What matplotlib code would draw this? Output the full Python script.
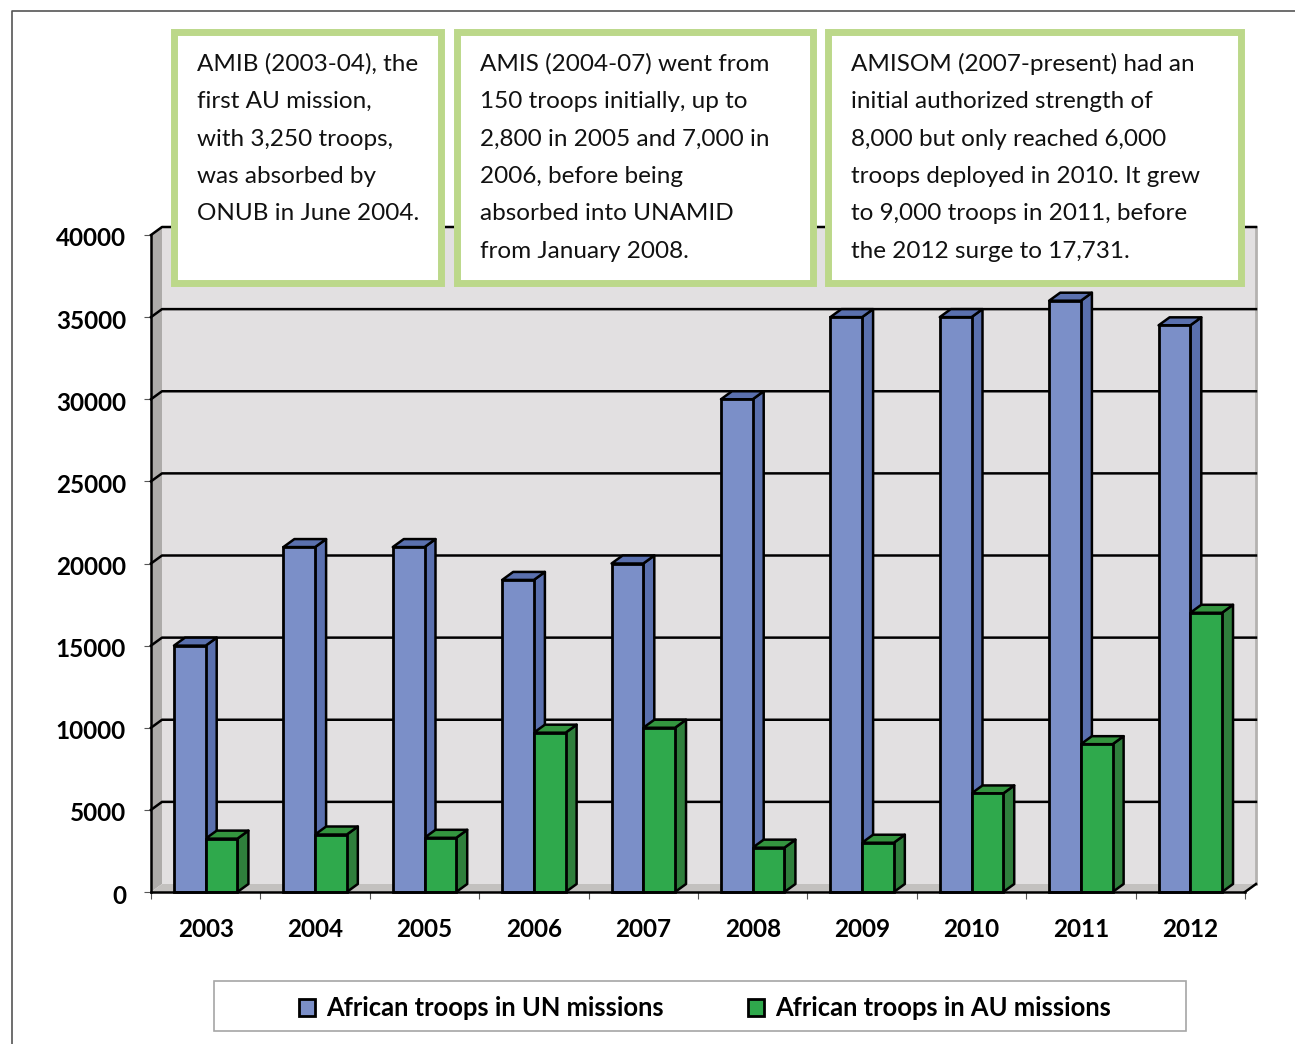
import matplotlib
matplotlib.use("Agg")
import matplotlib.pyplot as plt
from matplotlib.patches import Rectangle, Polygon
from matplotlib.transforms import ScaledTranslation

# -----------------------------------
# DATA
# -----------------------------------

years = ["2003", "2004", "2005", "2006", "2007", "2008", "2009", "2010", "2011", "2012"]
un_troops = [15000, 21000, 21000, 19000, 20000, 30000, 35000, 35000, 36000, 34500]
au_troops = [3250, 3500, 3300, 9700, 10000, 2700, 3000, 6000, 9000, 17000]
y_ticks = [0, 5000, 10000, 15000, 20000, 25000, 30000, 35000, 40000]

un_label = "African troops in UN missions"
au_label = "African troops in AU missions"

amib_lines = [
    "AMIB (2003-04), the",
    "first AU mission,",
    "with 3,250 troops,",
    "was absorbed by",
    "ONUB in June 2004.",
]
amis_lines = [
    "AMIS (2004-07) went from",
    "150 troops initially, up to",
    "2,800 in 2005 and 7,000 in",
    "2006, before being",
    "absorbed into UNAMID",
    "from January 2008.",
]
amisom_lines = [
    "AMISOM (2007-present) had an",
    "initial authorized strength of",
    "8,000 but only reached 6,000",
    "troops deployed in 2010. It grew",
    "to 9,000 troops in 2011, before",
    "the 2012 surge to 17,731.",
]

# -----------------------------------
# STYLE
# -----------------------------------

W, H = 1295, 1044
BLUE = "#7b8fc8"
BLUE_SIDE = "#5a70ae"
GREEN = "#2fa94c"
GREEN_SIDE = "#2f7f3c"
GREEN_TOP = "#34953f"
WALL = "#e2e0e1"
FLOOR = "#c3c1bf"
LEFT_WALL = "#adaba9"
BOX_GREEN = "#bcd88a"

plt.rcParams["font.family"] = ["Lato", "DejaVu Sans"]

fig = plt.figure(figsize=(W / 100, H / 100), dpi=100)
ax = fig.add_axes([151 / W, 1 - 892 / H, (1245 - 151) / W, (892 - 235) / H])
ax.set_xlim(0, len(years))
ax.set_ylim(0, 40000)

# depth of the fake 3d, in data units
DX = 11 / 109.4
DY = 8 / (657 / 40000)
BAR_W = 0.29
n = len(years)


def poly(pts, color, z, edge="none", lw=0):
    ax.add_patch(Polygon(pts, closed=True, facecolor=color, edgecolor=edge,
                         linewidth=lw, zorder=z, clip_on=False, joinstyle="round"))


# -----------------------------------
# WALLS
# -----------------------------------

poly([(DX, DY), (n + DX, DY), (n + DX, 40000 + DY), (DX, 40000 + DY)], WALL, 1)
poly([(0, 0), (DX, DY), (DX, 40000 + DY), (0, 40000)], LEFT_WALL, 1)
poly([(0, 0), (n, 0), (n + DX, DY), (DX, DY)], FLOOR, 1)

ax.plot([n + DX, n + DX], [DY, 40000 + DY], color="#b4b2b0", lw=2, zorder=1.5, clip_on=False)

for t in y_ticks[1:]:
    ax.plot([0, DX, n + DX], [t, t + DY, t + DY], color="black", lw=1.8,
            zorder=2, clip_on=False)

ax.plot([n, n + DX], [0, DY], color="black", lw=1.8, zorder=2, clip_on=False)

# -----------------------------------
# BARS
# -----------------------------------

x_pos = [i + 0.5 for i in range(n)]


def side_and_top(left, value, side, top):
    right = left + BAR_W
    poly([(right, 0), (right + DX, DY), (right + DX, value + DY), (right, value)],
         side, 3, "black", 1.8)
    poly([(left, value), (right, value), (right + DX, value + DY), (left + DX, value + DY)],
         top, 3, "black", 1.8)


for x, un, au in zip(x_pos, un_troops, au_troops):
    side_and_top(x - BAR_W, un, BLUE_SIDE, BLUE_SIDE)
    side_and_top(x, au, GREEN_SIDE, GREEN_TOP)

un_bars = ax.bar(x_pos, un_troops, width=-BAR_W, align="edge", color=BLUE,
                 edgecolor="black", linewidth=2, zorder=3.5, clip_on=False)
au_bars = ax.bar(x_pos, au_troops, width=BAR_W, align="edge", color=GREEN,
                 edgecolor="black", linewidth=2, zorder=3.5, clip_on=False)

# -----------------------------------
# AXES
# -----------------------------------

for name in ["top", "right"]:
    ax.spines[name].set_visible(False)
for name in ["left", "bottom"]:
    ax.spines[name].set_linewidth(1.8)
    ax.spines[name].set_zorder(4)

ax.set_yticks(y_ticks)
ax.set_yticklabels([str(t) for t in y_ticks], fontsize=17.5, fontweight="bold")
ax.set_xticks(range(n + 1))
ax.set_xticklabels([""] * (n + 1))
ax.set_xticks(x_pos, minor=True)
ax.set_xticklabels(years, minor=True, fontsize=17.5, fontweight="bold")
ax.tick_params(axis="x", which="major", length=5, width=0.8, color="#555555")
ax.tick_params(axis="x", which="minor", length=0, pad=18.5)
ax.tick_params(axis="y", length=5, width=0.8, color="#555555", pad=13)
ax.patch.set_visible(False)

# labels sit a little lower than the ticks in the original
nudge = ScaledTranslation(0, -2 / 100, fig.dpi_scale_trans)
for label in ax.get_yticklabels():
    label.set_transform(label.get_transform() + nudge)

# -----------------------------------
# PAGE FRAME, NOTES, LEGEND
# -----------------------------------

fig.add_artist(plt.Line2D([12 / W, 12 / W, 1], [0, 1 - 11 / H, 1 - 11 / H],
                          color="#555555", lw=1.2))


def note(x0, x1, lines):
    fig.add_artist(Rectangle((x0 / W, 1 - 282.5 / H), (x1 - x0) / W, 250 / H,
                             transform=fig.transFigure, facecolor="white",
                             edgecolor=BOX_GREEN, linewidth=5, zorder=5))
    for k, line in enumerate(lines):
        fig.text((x0 + 23.2) / W, 1 - (70.6 + 37.45 * k) / H, line, fontsize=17.5,
                 color="#111111", va="baseline", ha="left", zorder=6)


note(173.8, 440.8, amib_lines)
note(456.8, 812.8, amis_lines)
note(827.8, 1240.8, amisom_lines)

fig.add_artist(Rectangle((214 / W, 1 - 1031 / H), 972 / W, 50 / H,
                         transform=fig.transFigure, facecolor="white",
                         edgecolor="#a6a6a6", linewidth=1.2, zorder=5))
fig.legend([un_bars, au_bars], [un_label, au_label], loc="center",
           bbox_to_anchor=(705 / W, 1 - 1008.5 / H), ncol=2, frameon=False,
           prop={"weight": "bold", "size": 18.4}, handlelength=0.63,
           handleheight=0.63, handletextpad=0.42, columnspacing=3.3).set_zorder(6)

fig.savefig("out.png", dpi=100)
plt.close(fig)
